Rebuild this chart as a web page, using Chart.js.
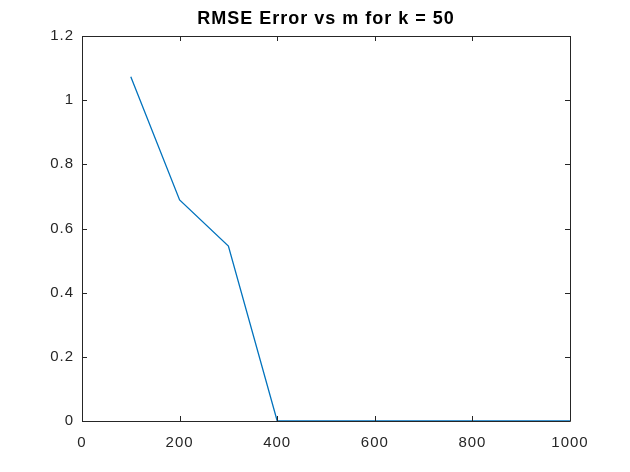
<!DOCTYPE html>
<html>
<head>
<meta charset="utf-8">
<script src="https://cdn.jsdelivr.net/npm/chart.js@4"></script>
<style>
  html, body { margin: 0; padding: 0; background: #fff; }
  #wrap { width: 630px; height: 472px; }
</style>
</head>
<body>
<div id="wrap"><canvas id="c"></canvas></div>
<script>
// data
var m_values = [100, 200, 300, 400, 500, 600, 700, 800, 900, 1000];
var rmse_values = [1.073, 0.689, 0.545, 0, 0, 0, 0, 0, 0, 0];
var x_ticks = [0, 200, 400, 600, 800, 1000];
var y_ticks = [0, 0.2, 0.4, 0.6, 0.8, 1, 1.2];

var axisColor = '#262626';
var font = 'Liberation Sans, Arial, Helvetica, sans-serif';

// matlab renders its text a little wider than arial, so space the letters out
var spacingPlugin = {
  id: 'spacing',
  beforeDraw: function(chart) { chart.ctx.letterSpacing = '1px'; }
};

// MATLAB style box with inward ticks on all four sides
var boxPlugin = {
  id: 'box',
  afterDraw: function(chart) {
    var ctx = chart.ctx, a = chart.chartArea;
    var xs = chart.scales.x, ys = chart.scales.y;
    var len = 5;
    ctx.save();
    ctx.strokeStyle = axisColor;
    ctx.lineWidth = 1;
    ctx.beginPath();
    ctx.rect(Math.round(a.left) + 0.5, Math.round(a.top) + 0.5,
             Math.round(a.right - a.left), Math.round(a.bottom - a.top));
    x_ticks.forEach(function(v) {
      var px = Math.round(xs.getPixelForValue(v)) + 0.5;
      ctx.moveTo(px, a.bottom); ctx.lineTo(px, a.bottom - len);
      ctx.moveTo(px, a.top); ctx.lineTo(px, a.top + len);
    });
    y_ticks.forEach(function(v) {
      var py = Math.round(ys.getPixelForValue(v)) + 0.5;
      ctx.moveTo(a.left, py); ctx.lineTo(a.left + len, py);
      ctx.moveTo(a.right, py); ctx.lineTo(a.right - len, py);
    });
    ctx.stroke();
    ctx.restore();
  }
};

new Chart(document.getElementById('c'), {
  type: 'line',
  data: {
    datasets: [{
      data: m_values.map(function(m, i) { return { x: m, y: rmse_values[i] }; }),
      borderColor: '#0072BD',
      borderWidth: 1.3,
      pointRadius: 0,
      tension: 0,
      fill: false
    }]
  },
  options: {
    responsive: true,
    maintainAspectRatio: false,
    animation: false,
    devicePixelRatio: 1,
    layout: { padding: { left: 0, right: 60, top: 0, bottom: 0 } },
    plugins: {
      legend: { display: false },
      tooltip: { enabled: false },
      title: {
        display: true,
        text: 'RMSE Error vs m for k = 50',
        fullSize: false,
        color: '#000',
        font: { family: font, size: 18, weight: 'bold', lineHeight: 1.2 },
        padding: { top: 8, bottom: 6.4 }
      }
    },
    scales: {
      x: {
        type: 'linear',
        min: 0, max: 1000,
        afterBuildTicks: function(s) { s.ticks = x_ticks.map(function(v) { return { value: v }; }); },
        afterFit: function(s) { s.height = 51; },
        grid: { display: false, drawTicks: false },
        border: { display: false },
        ticks: { color: axisColor, font: { family: font, size: 15 }, padding: 13, maxRotation: 0,
                 callback: function(v) { return String(v); } }
      },
      y: {
        type: 'linear',
        min: 0, max: 1.2,
        afterBuildTicks: function(s) { s.ticks = y_ticks.map(function(v) { return { value: v }; }); },
        afterFit: function(s) { s.width = 82; },
        grid: { display: false, drawTicks: false },
        border: { display: false },
        ticks: { color: axisColor, font: { family: font, size: 15 }, padding: 8,
                 callback: function(v) { return String(v); } }
      }
    }
  },
  plugins: [spacingPlugin, boxPlugin]
});
</script>
</body>
</html>
